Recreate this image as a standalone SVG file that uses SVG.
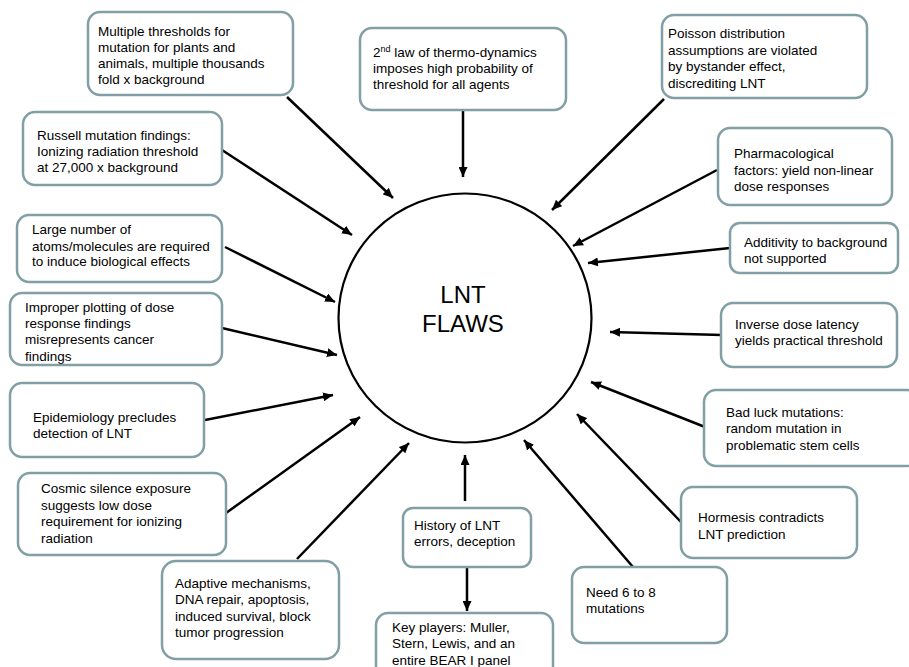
<svg xmlns="http://www.w3.org/2000/svg" width="909" height="667" viewBox="0 0 909 667">
<defs>
<style>
.box{fill:#ffffff;stroke:#819fa4;stroke-width:2.5}
.t{font-family:"Liberation Sans",Arial,sans-serif;font-size:13.5px;fill:#000}
.big{font-family:"Liberation Sans",Arial,sans-serif;font-size:24px;fill:#000;text-anchor:middle}
.c{stroke:#000;stroke-width:2.5;fill:none;marker-end:url(#ah)}
</style>
<marker id="ah" markerUnits="userSpaceOnUse" markerWidth="11" markerHeight="9" refX="10" refY="4.5" orient="auto">
<path d="M0,0 L10,4.5 L0,9 z" fill="#000"/>
</marker>
</defs>
<rect width="909" height="667" fill="#ffffff"/>

<g id="connectors">
<line class="c" x1="287" y1="97" x2="393" y2="198"/>
<line class="c" x1="222" y1="150" x2="352" y2="235"/>
<line class="c" x1="225" y1="247" x2="335" y2="302"/>
<line class="c" x1="222" y1="328" x2="337" y2="355"/>
<line class="c" x1="205" y1="420" x2="333" y2="395"/>
<line class="c" x1="226" y1="513" x2="360" y2="417"/>
<line class="c" x1="297" y1="559" x2="409" y2="443"/>
<line class="c" x1="465" y1="501" x2="465" y2="455"/>
<line class="c" x1="467" y1="567" x2="467" y2="611"/>
<line class="c" x1="633" y1="567" x2="524" y2="440"/>
<line class="c" x1="681" y1="522" x2="577" y2="414"/>
<line class="c" x1="705" y1="427" x2="591" y2="382"/>
<line class="c" x1="722" y1="335" x2="610" y2="332"/>
<line class="c" x1="730" y1="248" x2="588" y2="263"/>
<line class="c" x1="717" y1="170" x2="573" y2="246"/>
<line class="c" x1="664" y1="99" x2="552" y2="210"/>
<line class="c" x1="463" y1="110" x2="463" y2="177"/>
</g>

<g id="center">
<ellipse cx="465" cy="318" rx="126.5" ry="124.5" fill="#ffffff" stroke="#000" stroke-width="2.2"/>
<text class="big" x="463" y="303">LNT</text>
<text class="big" x="463" y="332">FLAWS</text>
</g>

<g id="n-multiple">
<rect class="box" x="88" y="12" width="205" height="83" rx="12"/>
<text class="t" x="98" y="36">Multiple thresholds for</text>
<text class="t" x="98" y="52">mutation for plants and</text>
<text class="t" x="98" y="68">animals, multiple thousands</text>
<text class="t" x="98" y="84">fold x background</text>
</g>

<g id="n-russell">
<rect class="box" x="23" y="112" width="199" height="73" rx="12"/>
<text class="t" x="37" y="140">Russell mutation findings:</text>
<text class="t" x="37" y="156">Ionizing radiation threshold</text>
<text class="t" x="37" y="172">at 27,000 x background</text>
</g>

<g id="n-2ndlaw">
<rect class="box" x="360" y="28" width="206" height="82" rx="12"/>
<text class="t" x="373" y="57">2<tspan font-size="9px" baseline-shift="super">nd</tspan> law of thermo-dynamics</text>
<text class="t" x="373" y="73">imposes high probability of</text>
<text class="t" x="373" y="89">threshold for all agents</text>
</g>

<g id="n-poisson">
<rect class="box" x="662" y="15" width="205" height="83" rx="12"/>
<text class="t" x="668" y="38">Poisson distribution</text>
<text class="t" x="668" y="55">assumptions are violated</text>
<text class="t" x="668" y="71">by bystander effect,</text>
<text class="t" x="668" y="88">discrediting LNT</text>
</g>

<g id="n-pharm">
<rect class="box" x="718" y="128" width="174" height="77" rx="12"/>
<text class="t" x="734" y="158">Pharmacological</text>
<text class="t" x="734" y="175">factors: yield non-linear</text>
<text class="t" x="734" y="191">dose responses</text>
</g>

<g id="n-additivity">
<rect class="box" x="730" y="223" width="168" height="50" rx="10"/>
<text class="t" x="744" y="247">Additivity to background</text>
<text class="t" x="744" y="263">not supported</text>
</g>

<g id="n-inverse">
<rect class="box" x="721" y="303" width="176" height="64" rx="12"/>
<text class="t" x="735" y="329">Inverse dose latency</text>
<text class="t" x="735" y="345">yields practical threshold</text>
</g>

<g id="n-badluck">
<rect class="box" x="704" y="390" width="215" height="76" rx="12"/>
<text class="t" x="726" y="417">Bad luck mutations:</text>
<text class="t" x="726" y="433">random mutation in</text>
<text class="t" x="726" y="450">problematic stem cells</text>
</g>

<g id="n-hormesis">
<rect class="box" x="681" y="487" width="176" height="71" rx="12"/>
<text class="t" x="698" y="522">Hormesis contradicts</text>
<text class="t" x="698" y="539">LNT prediction</text>
</g>

<g id="n-need">
<rect class="box" x="572" y="567" width="155" height="76" rx="12"/>
<text class="t" x="586" y="597">Need 6 to 8</text>
<text class="t" x="586" y="613">mutations</text>
</g>

<g id="n-keyplayers">
<rect class="box" x="376" y="613" width="177" height="70" rx="12"/>
<text class="t" x="392" y="632">Key players: Muller,</text>
<text class="t" x="392" y="648">Stern, Lewis, and an</text>
<text class="t" x="392" y="665">entire BEAR I panel</text>
</g>

<g id="n-history">
<rect class="box" x="403" y="508" width="128" height="59" rx="10"/>
<text class="t" x="414" y="530">History of LNT</text>
<text class="t" x="414" y="546">errors, deception</text>
</g>

<g id="n-adaptive">
<rect class="box" x="162" y="561" width="177" height="98" rx="14"/>
<text class="t" x="175" y="588">Adaptive mechanisms,</text>
<text class="t" x="175" y="604">DNA repair, apoptosis,</text>
<text class="t" x="175" y="621">induced survival, block</text>
<text class="t" x="175" y="637">tumor progression</text>
</g>

<g id="n-cosmic">
<rect class="box" x="18" y="473" width="208" height="82" rx="12"/>
<text class="t" x="41" y="493">Cosmic silence exposure</text>
<text class="t" x="41" y="510">suggests low dose</text>
<text class="t" x="41" y="526">requirement for ionizing</text>
<text class="t" x="41" y="543">radiation</text>
</g>

<g id="n-epidemiology">
<rect class="box" x="10" y="383" width="194" height="74" rx="12"/>
<text class="t" x="33" y="422">Epidemiology precludes</text>
<text class="t" x="33" y="438">detection of LNT</text>
</g>

<g id="n-improper">
<rect class="box" x="10" y="293" width="212" height="72" rx="12"/>
<text class="t" x="25" y="312">Improper plotting of dose</text>
<text class="t" x="25" y="328">response findings</text>
<text class="t" x="25" y="344">misrepresents cancer</text>
<text class="t" x="25" y="361">findings</text>
</g>

<g id="n-large">
<rect class="box" x="17" y="215" width="205" height="67" rx="12"/>
<text class="t" x="32" y="234">Large number of</text>
<text class="t" x="32" y="251">atoms/molecules are required</text>
<text class="t" x="32" y="266">to induce biological effects</text>
</g>
</svg>
